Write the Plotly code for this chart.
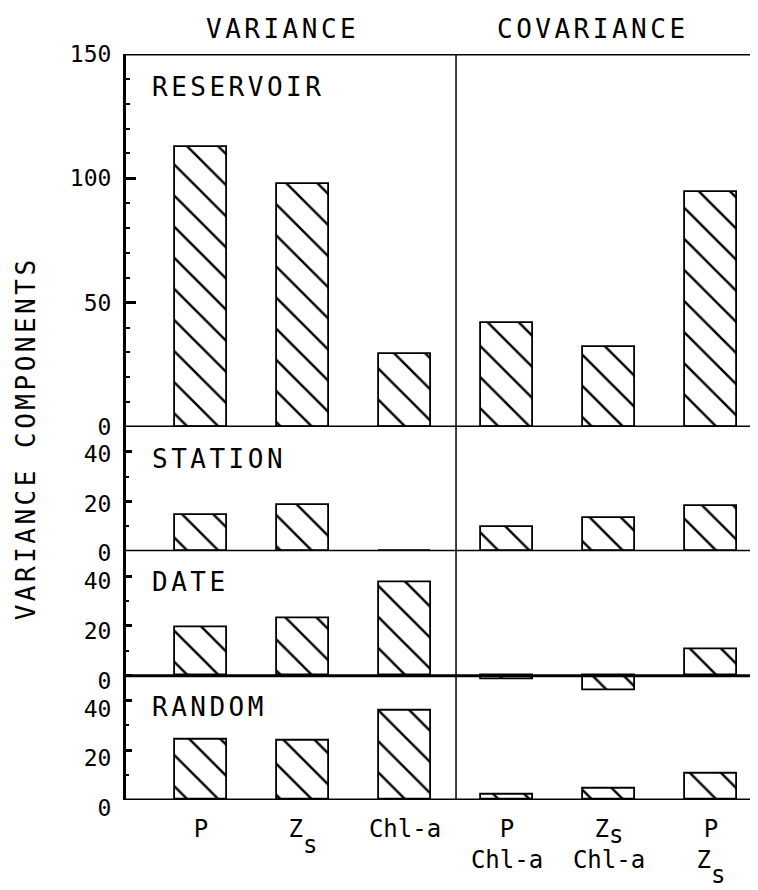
import plotly.graph_objects as go

# ---------------- data ----------------
categories = ["P", "Zs", "Chl-a", "P·Chl-a", "Zs·Chl-a", "P·Zs"]
tick_labels = [
    "P",
    "Z<span style='baseline-shift:-16px'>s</span>",
    "Chl-a",
    "P<br>Chl-a",
    "Z<span style='baseline-shift:-6px'>s</span><br>Chl-a",
    "P<br>Z<span style='baseline-shift:-15px'>s</span>",
]
panel_names = ["RESERVOIR", "STATION", "DATE", "RANDOM"]
reservoir = [112.7, 97.6, 29.2, 41.9, 32.0, 94.4]
station = [14.6, 18.6, 0.0, 9.6, 13.3, 18.3]
date = [19.5, 22.9, 37.7, -1.5, -6.0, 10.7]
random_ = [24.2, 23.7, 35.9, 2.0, 4.7, 10.6]
group_titles = ["VARIANCE", "COVARIANCE"]
y_title = "VARIANCE COMPONENTS"

panels = [reservoir, station, date, random_]
yaxes = ["y", "y2", "y3", "y4"]

FONT = "DejaVu Sans Mono"
x_idx = list(range(len(categories)))

fig = go.Figure()
for vals, ya in zip(panels, yaxes):
    fig.add_trace(go.Bar(
        x=x_idx, y=vals, xaxis="x", yaxis=ya, width=0.51,
        marker=dict(color="white", line=dict(color="black", width=1.8),
                    pattern=dict(shape="\\", fgcolor="black", bgcolor="white",
                                 fgopacity=1, fillmode="replace",
                                 size=22, solidity=0.11)),
        showlegend=False, hoverinfo="skip"))


def yax(domain, rng, dtick, ticklen, minorlen, shift):
    return dict(domain=domain, range=rng, anchor="x", tick0=0, dtick=dtick,
                ticks="inside", ticklen=ticklen, tickwidth=2.5, tickcolor="black",
                minor=dict(dtick=10, tick0=0, ticks="inside", ticklen=minorlen,
                           tickwidth=1.5, tickcolor="black"),
                showline=True, linewidth=3, linecolor="black",
                showgrid=False, zeroline=False, ticklabelstandoff=7,
                ticklabelshift=shift,
                tickfont=dict(family=FONT, size=23, color="black"))


u = 1.0 / 300.0
fig.update_layout(
    width=750, height=882,
    margin=dict(l=118, r=0, t=46, b=90),
    paper_bgcolor="white", plot_bgcolor="rgba(0,0,0,0)",
    bargap=0,
    xaxis=dict(domain=[0, 1], range=[-0.735, 5.46], anchor="y4",
               tickvals=x_idx, ticktext=tick_labels, ticks="",
               showline=False, showgrid=False, zeroline=False,
               ticklabelstandoff=12,
               tickfont=dict(family=FONT, size=24, color="black")),
    yaxis=yax([0.5, 1.0], [0, 150], 50, 10, 4, 0),
    yaxis2=yax([1 / 3, 0.5], [0, 50], 20, 6, 3, 2),
    yaxis3=yax([1 / 6 - 8 * u, 1 / 3], [-8, 50], 20, 6, 3, 5),
    yaxis4=yax([0, 1 / 6], [0, 50], 20, 6, 3, 8),
)

shapes = []
for ya in yaxes:
    shapes.append(dict(type="line", xref="paper", yref=ya, x0=0, x1=1, y0=0, y1=0,
                       line=dict(color="black", width=3)))
shapes.append(dict(type="line", xref="paper", yref="y", x0=0, x1=1, y0=150, y1=150,
                   line=dict(color="black", width=3)))
shapes.append(dict(type="line", xref="x", yref="paper", x0=2.5, x1=2.5, y0=0, y1=1,
                   line=dict(color="black", width=1.5)))
fig.update_layout(shapes=shapes)

ls = "letter-spacing:3.5px"
ann = []
label_y = [0.9558, 0.457, 0.292, 0.1247]
for name, yy in zip(panel_names, label_y):
    ann.append(dict(text=f"<span style='{ls}'>{name}</span>", xref="paper", yref="paper",
                    x=0.038, y=yy, xanchor="left", yanchor="middle", showarrow=False,
                    font=dict(family=FONT, size=26, color="black")))
for t, xx in zip(group_titles, [0.247, 0.739]):
    ann.append(dict(text=f"<span style='{ls}'>{t}</span>", xref="paper", yref="paper",
                    x=xx, y=1.0335, xanchor="center", yanchor="middle", showarrow=False,
                    font=dict(family=FONT, size=26, color="black")))
ann.append(dict(text=f"<span style='{ls}'>{y_title}</span>", xref="paper", yref="paper",
                x=-0.158, y=0.485, xanchor="center", yanchor="middle", textangle=-90,
                showarrow=False, font=dict(family=FONT, size=26, color="black")))
fig.update_layout(annotations=ann)

fig.write_html("out.html")
